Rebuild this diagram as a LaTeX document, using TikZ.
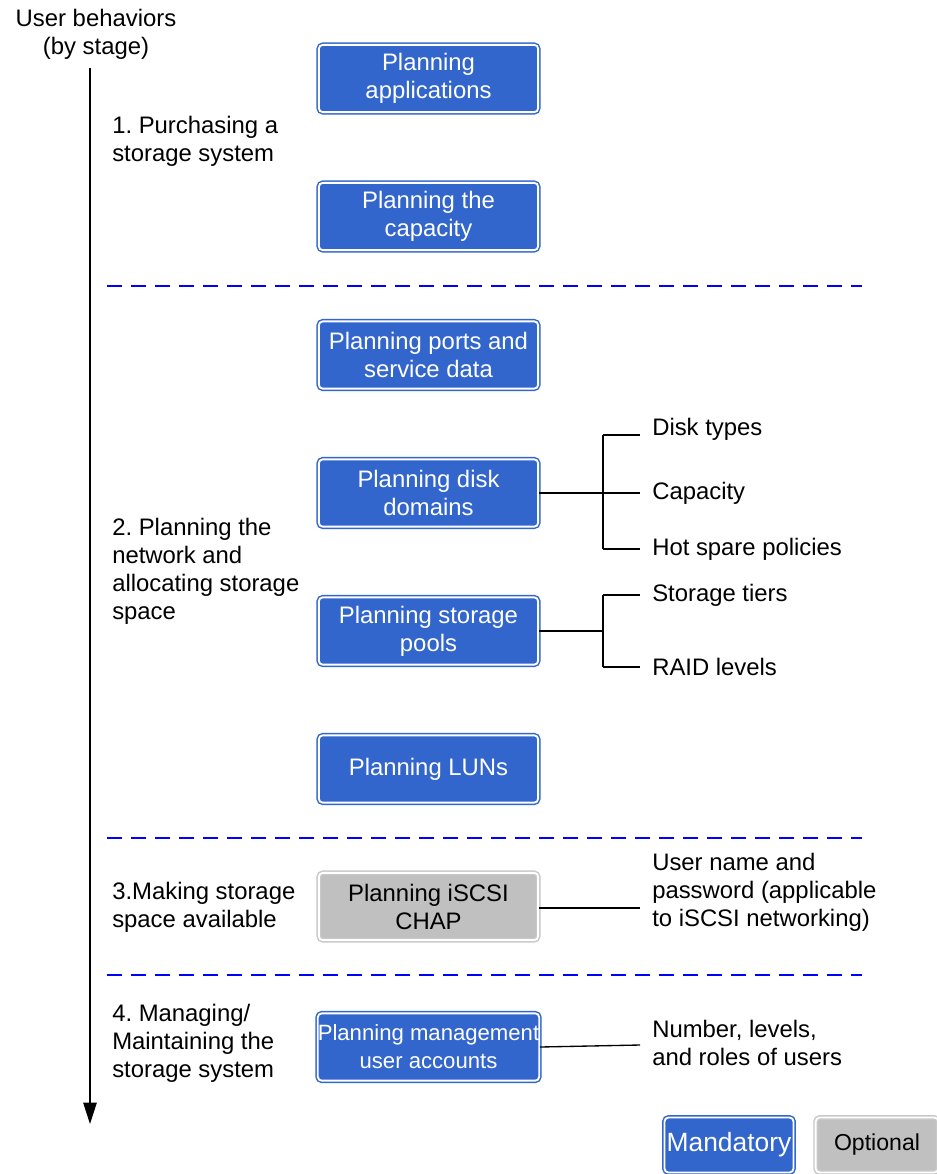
\documentclass[tikz,border=0pt]{standalone}
\usepackage{fontspec}
\setmainfont{Liberation Sans}
\frenchspacing
\usetikzlibrary{arrows.meta}
\definecolor{boxblue}{HTML}{3366CC}
\definecolor{boxgray}{HTML}{C0C0C0}
\definecolor{grayline}{HTML}{C8C8C8}
\definecolor{dashblue}{HTML}{0000FF}
\tikzset{
  x=0.75pt, y=-0.75pt,
  txt/.style={font=\fontsize{17.9}{21}\selectfont, inner sep=0pt},
  mandbox/.style={txt, rounded corners=3pt, draw=boxblue, double=white, line width=1.1pt, double distance=1.4pt, fill=boxblue, text=white, align=center, minimum width=164.5pt, minimum height=50.5pt},
  optbox/.style={txt, rounded corners=3pt, draw=grayline, double=white, line width=1.1pt, double distance=1.4pt, fill=boxgray, text=black, align=center, minimum width=164.5pt, minimum height=50.5pt},
  lbl/.style={txt, align=left, anchor=west},
  sep/.style={draw=dashblue, line width=1.5pt, dash pattern=on 11.5pt off 6.5pt},
  conn/.style={draw=black, line width=1pt},
}
\begin{document}
\begin{tikzpicture}
\useasboundingbox (0,0) rectangle (937,1174);
% header and axis
\node[txt, align=center] (hdr) at (96,34) {User behaviors\\(by stage)};
\coordinate (axtop) at (90,68);
\coordinate (axbot) at (90,1124);
\draw[line width=1.2pt, -{Triangle[length=16pt,width=10pt]}] (axtop) -- (axbot);

% stage labels
\node[lbl] (s1) at (112,141) {1. Purchasing a\\storage system};
\node[lbl] (s2) at (112,571) {2. Planning the\\network and\\allocating storage\\space};
\node[lbl] (s3) at (112,907) {3.Making storage\\space available};
\node[lbl] (s4) at (112,1043) {4. Managing/\\Maintaining the\\storage system};

% separators
\coordinate (d1a) at (107,286); \coordinate (d1b) at (862,286);
\coordinate (d2a) at (107,838); \coordinate (d2b) at (862,838);
\coordinate (d3a) at (107,975); \coordinate (d3b) at (862,975);
\draw[sep] (d1a) -- (d1b);
\draw[sep] (d2a) -- (d2b);
\draw[sep] (d3a) -- (d3b);

% boxes
\node[mandbox] (b1) at (428.5,78.5) {Planning\\applications};
\node[mandbox] (b2) at (428.5,216.5) {Planning the\\capacity};
\node[mandbox] (b3) at (428.5,355) {Planning ports and\\service data};
\node[mandbox] (b4) at (428.5,493) {Planning disk\\domains};
\node[mandbox] (b5) at (428.5,631) {Planning storage\\pools};
\node[mandbox] (b6) at (428.5,769) {Planning LUNs};
\node[optbox] (b7) at (428.5,906.5) {Planning iSCSI\\CHAP};
\node[mandbox, font=\fontsize{16.6}{21}\selectfont] (b8) at (428.5,1047) {Planning management\\user accounts};

% disk domain branches
\coordinate (j4) at (603,493);
\coordinate (j4t) at (603,435);
\coordinate (j4b) at (603,549);
\node[lbl] (l41) at (652,429) {Disk types};
\node[lbl] (l42) at (652,493) {Capacity};
\node[lbl] (l43) at (652,549) {Hot spare policies};
\coordinate (e41) at (640,435);
\coordinate (e42) at (640,493);
\coordinate (e43) at (640,549);
\draw[conn] (b4.east) -- (j4);
\draw[conn] (j4t) -- (j4b);
\draw[conn] (j4t) -- (e41);
\draw[conn] (j4) -- (e42);
\draw[conn] (j4b) -- (e43);

% storage pool branches
\coordinate (j5) at (603,631);
\coordinate (j5t) at (603,595);
\coordinate (j5b) at (603,667);
\node[lbl] (l51) at (652,595) {Storage tiers};
\node[lbl] (l52) at (652,667) {RAID levels};
\coordinate (e51) at (640,595);
\coordinate (e52) at (640,667);
\draw[conn] (b5.east) -- (j5);
\draw[conn] (j5t) -- (j5b);
\draw[conn] (j5t) -- (e51);
\draw[conn] (j5b) -- (e52);

% iSCSI
\node[lbl] (l7) at (652,892) {User name and\\password (applicable\\to iSCSI networking)};
\coordinate (e7) at (640,908);
\draw[conn] (b7.east |- e7) -- (e7);

% management
\node[lbl] (l8) at (652,1043) {Number, levels,\\and roles of users};
\coordinate (e8) at (640,1045);
\draw[conn] (b8.east) -- (e8);

% legend
\node[mandbox, minimum width=96.75pt, minimum height=41.25pt, font=\fontsize{19.8}{22}\selectfont] (lm) at (729,1145) {Mandatory};
\node[optbox, minimum width=92pt, minimum height=41.25pt, font=\fontsize{17.3}{21}\selectfont] (lo) at (877,1145) {Optional};
\end{tikzpicture}
\end{document}
